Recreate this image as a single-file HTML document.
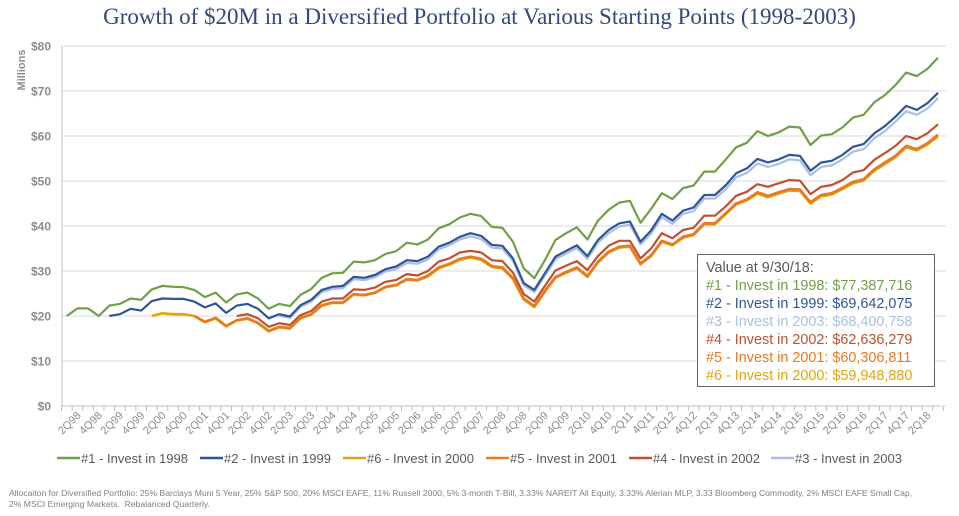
<!DOCTYPE html>
<html><head><meta charset="utf-8">
<style>
body{margin:0;background:#fff;width:959px;height:516px;overflow:hidden;font-family:"Liberation Sans",sans-serif;}
#title{position:absolute;left:0;top:4px;width:959px;text-align:center;font-family:"Liberation Serif",serif;font-size:23px;color:#2E4A7D;}
#foot{position:absolute;left:9px;top:488px;font-size:8.6px;color:#7f7f7f;line-height:10.5px;}
#box{position:absolute;left:697px;top:254px;width:238px;height:133px;border:1.5px solid #666;background:#fff;box-sizing:border-box;padding:4px 0 0 8px;font-size:14.4px;line-height:18px;color:#595959;}
</style></head><body>
<div id="title">Growth of $20M in a Diversified Portfolio at Various Starting Points (1998-2003)</div>
<svg id="chart" width="959" height="516" style="position:absolute;left:0;top:0"></svg>
<div id="box">
<div>Value at 9/30/18:</div>
<div style="color:#6FA046">#1 - Invest in 1998: $77,387,716</div>
<div style="color:#2F5597">#2 - Invest in 1999: $69,642,075</div>
<div style="color:#A9BFE3">#3 - Invest in 2003: $68,400,758</div>
<div style="color:#C0502F">#4 - Invest in 2002: $62,636,279</div>
<div style="color:#E87A22">#5 - Invest in 2001: $60,306,811</div>
<div style="color:#E0A50C">#6 - Invest in 2000: $59,948,880</div>
</div>
<div id="foot">Allocaiton for Diversified Portfolio: 25% Barclays Muni 5 Year, 25% S&amp;P 500, 20% MSCI EAFE, 11% Russell 2000, 5% 3-month T-Bill, 3.33% NAREIT All Equity, 3.33% Alerian MLP, 3.33 Bloomberg Commodity, 2% MSCI EAFE Small Cap,<br>2% MSCI Emerging Markets.&nbsp; Rebalanced Quarterly.</div>
<script>
const yTicks=[0,10,20,30,40,50,60,70,80];
const s1998=[20.0,21.7,21.7,20.0,22.3,22.7,23.9,23.6,25.9,26.7,26.5,26.4,25.8,24.2,25.2,23.0,24.8,25.2,23.9,21.6,22.7,22.2,24.7,26.0,28.5,29.5,29.6,32.1,31.9,32.4,33.8,34.4,36.3,35.9,37.0,39.5,40.4,41.9,42.7,42.2,39.8,39.6,36.5,30.6,28.4,32.4,36.9,38.4,39.7,37.0,41.2,43.6,45.2,45.6,40.7,43.8,47.3,46.0,48.4,49.0,52.1,52.1,54.7,57.5,58.5,61.1,60.0,60.8,62.1,61.9,58.0,60.1,60.4,61.9,64.1,64.7,67.5,69.1,71.3,74.1,73.3,74.9,77.4];
const s1999=[null,null,null,null,20.0,20.4,21.6,21.2,23.3,23.9,23.8,23.8,23.2,21.9,22.8,20.7,22.3,22.7,21.6,19.5,20.4,19.9,22.4,23.6,25.8,26.5,26.7,28.7,28.5,29.1,30.4,31.0,32.4,32.2,33.2,35.4,36.3,37.6,38.4,37.8,35.8,35.6,32.8,27.3,25.8,29.5,33.2,34.5,35.7,33.3,36.9,39.1,40.6,41.0,36.5,39.0,42.7,41.2,43.4,44.1,46.9,46.9,49.0,51.7,52.8,54.9,54.1,54.8,55.8,55.6,52.3,54.1,54.5,55.8,57.6,58.2,60.6,62.2,64.3,66.7,65.8,67.3,69.6];
const s2003=[null,null,null,null,null,null,null,null,null,null,null,null,null,null,null,null,null,null,null,null,20.0,19.6,22.0,23.2,25.3,26.0,26.2,28.2,28.0,28.6,29.9,30.4,31.8,31.6,32.6,34.8,35.7,37.0,37.7,37.1,35.2,35.0,32.2,26.8,25.3,29.0,32.6,33.9,35.1,32.7,36.3,38.4,39.9,40.3,35.9,38.3,42.0,40.5,42.7,43.3,46.1,46.1,48.1,50.8,51.8,53.9,53.1,53.8,54.8,54.6,51.3,53.1,53.5,54.8,56.5,57.1,59.5,61.1,63.2,65.5,64.7,66.1,68.4];
const s2002=[null,null,null,null,null,null,null,null,null,null,null,null,null,null,null,null,20.0,20.4,19.5,17.6,18.4,18.0,20.2,21.1,23.2,23.9,23.9,25.9,25.8,26.3,27.6,28.0,29.3,29.0,30.0,32.1,32.8,34.1,34.5,34.1,32.4,32.2,29.6,24.9,23.2,26.7,30.1,31.2,32.2,30.2,33.3,35.6,36.7,36.7,32.8,35.0,38.4,37.3,39.1,39.6,42.3,42.3,44.3,46.7,47.6,49.3,48.7,49.5,50.2,50.1,47.1,48.7,49.1,50.2,51.9,52.4,54.7,56.2,57.8,60.0,59.3,60.6,62.6];
const s2001=[null,null,null,null,null,null,null,null,null,null,null,null,20.0,18.7,19.6,17.8,19.1,19.5,18.5,16.7,17.6,17.3,19.6,20.4,22.4,23.0,23.0,24.9,24.7,25.2,26.5,26.9,28.2,28.0,29.0,30.8,31.6,32.7,33.2,32.7,31.1,30.8,28.4,23.9,22.2,25.6,28.7,29.8,30.8,28.9,32.1,34.3,35.4,35.6,31.7,33.5,36.7,35.9,37.6,38.2,40.6,40.6,42.8,45.0,45.9,47.5,46.7,47.5,48.2,48.1,45.3,46.9,47.3,48.5,49.8,50.4,52.6,54.1,55.6,57.8,57.1,58.4,60.3];
const s2000=[null,null,null,null,null,null,null,null,20.0,20.6,20.4,20.4,20.0,18.6,19.5,17.7,19.0,19.4,18.4,16.6,17.5,17.2,19.5,20.3,22.3,22.9,22.9,24.8,24.6,25.1,26.4,26.8,28.1,27.9,28.8,30.6,31.4,32.5,33.0,32.5,30.9,30.6,28.2,23.7,22.0,25.4,28.5,29.6,30.6,28.7,31.9,34.1,35.2,35.4,31.5,33.3,36.5,35.7,37.4,38.0,40.4,40.4,42.6,44.8,45.7,47.2,46.4,47.2,47.9,47.8,45.0,46.6,47.0,48.2,49.5,50.1,52.3,53.8,55.3,57.5,56.8,58.1,59.9];
const seriesNames=["#1 - Invest in 1998","#2 - Invest in 1999","#6 - Invest in 2000","#5 - Invest in 2001","#4 - Invest in 2002","#3 - Invest in 2003"];
const seriesColors=["#6FA046","#2F5597","#E0A50C","#E87A22","#C0502F","#A9BFE3"];
const seriesData=[s1998,s1999,s2000,s2001,s2002,s2003];
const drawOrder=[0,5,1,4,2,3];
const qLabels=[];
for(let y=1998;y<=2018;y++){for(let q=1;q<=4;q++){if(y===2018&&q>3)break;qLabels.push(q+"Q"+String(y).slice(2));}}

const NS="http://www.w3.org/2000/svg";
const svg=document.getElementById('chart');
const L=62,R=946,T=46,B=406,N=s1998.length;
const cw=(938-61.5)/(N-0.5);
const xS=i=>61.5+(i+0.5)*cw;
const yS=v=>B-(v/80)*(B-T);
function mk(t,a){const e=document.createElementNS(NS,t);for(const k in a)e.setAttribute(k,a[k]);svg.appendChild(e);return e;}
yTicks.forEach(v=>{
  const g=mk('line',{x1:L,x2:R,y1:yS(v),y2:yS(v),stroke:'#d9d9d9','stroke-width':1});
  
  
  const t=mk('text',{x:51,y:yS(v)+4.5,'text-anchor':'end','font-size':12,'font-weight':'bold',fill:'#8c8c8c','font-family':'Liberation Sans, sans-serif'});
  t.textContent='$'+v;
  
  
});
const yt=mk('text',{x:0,y:0,transform:'translate(25,70) rotate(-90)','text-anchor':'middle','font-size':11,'font-weight':'bold',fill:'#8c8c8c','font-family':'Liberation Sans, sans-serif'});
yt.textContent='Millions';


const ax=mk('line',{x1:L,x2:L,y1:T,y2:B,stroke:'#bfbfbf'});


const bx=mk('line',{x1:L,x2:R-6,y1:B,y2:B,stroke:'#bfbfbf'});


for(let i=0;i<=N;i++){
  const x=xS(i)-cw/2;
  const tk=mk('line',{x1:x,x2:x,y1:B,y2:B+5,stroke:'#bfbfbf'});
  
  
}
qLabels.forEach((lab,i)=>{
  if(i%2!==1)return;
  const x=xS(i)+4,y=B+10;
  const t=mk('text',{x:x,y:y,transform:`rotate(-45 ${x} ${y})`,'text-anchor':'end','font-size':11,fill:'#8c8c8c','font-family':'Liberation Sans, sans-serif'});
  t.textContent=lab;
  
  
});
drawOrder.forEach(si=>{
  const d=seriesData[si];let p='';
  d.forEach((v,i)=>{if(v===null)return;p+=(p?'L':'M')+xS(i).toFixed(1)+','+yS(v).toFixed(1);});
  const pl=mk('path',{d:p,fill:'none',stroke:seriesColors[si],'stroke-width':si===3||si===2?2.6:2.2,'stroke-linejoin':'round'});
  
  
});
const legPos=[57,200,343,486,629,771];
legPos.forEach((p,i)=>{
  const ln=mk('line',{x1:p,x2:p+23,y1:458,y2:458,stroke:seriesColors[i],'stroke-width':2.4});
  
  
  const t=mk('text',{x:p+24,y:463,'font-size':13,fill:'#595959','font-family':'Liberation Sans, sans-serif'});
  t.textContent=seriesNames[i];
  
  
});
</script>
</body></html>
